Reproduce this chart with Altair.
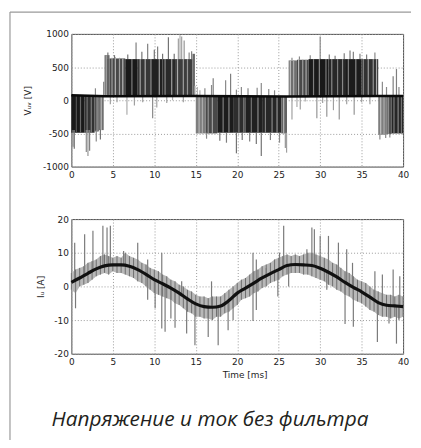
import altair as alt
import pandas as pd

# ---------------- data ----------------
X_TICKS = [0, 5, 10, 15, 20, 25, 30, 35, 40]
V_TICKS = [-1000, -500, 0, 500, 1000]
I_TICKS = [-20, -10, 0, 10, 20]

# Dense PWM blocks of the voltage: (t0, t1, low, high, grey level 0=black..1=white)
V_BLOCKS = [
    (0.0, 1.6, -490, 80, 0.05), (1.6, 2.8, -490, 80, 0.18), (2.8, 3.3, -470, 80, 0.33),
    (3.3, 3.9, -450, 80, 0.48),
    (4.0, 4.6, 60, 680, 0.42), (4.6, 6.5, 60, 630, 0.30), (6.5, 8.0, 60, 620, 0.04),
    (8.0, 9.5, 60, 620, 0.20), (9.5, 11.0, 60, 620, 0.08), (11.0, 12.5, 60, 620, 0.13),
    (12.5, 14.6, 60, 620, 0.24), (14.6, 14.9, 60, 700, 0.45),
    (15.0, 16.2, -500, 60, 0.55), (16.2, 17.6, -500, 60, 0.30), (17.6, 19.5, -490, 60, 0.06),
    (19.5, 21.0, -490, 60, 0.16), (21.0, 23.0, -490, 60, 0.08), (23.0, 25.3, -490, 60, 0.12),
    (25.3, 26.0, -500, 60, 0.42),
    (26.2, 27.2, 60, 600, 0.48), (27.2, 28.6, 60, 610, 0.30), (28.6, 31.0, 60, 620, 0.04),
    (31.0, 33.0, 60, 620, 0.12), (33.0, 35.0, 60, 620, 0.06), (35.0, 37.0, 60, 620, 0.18),
    (37.0, 38.0, -520, 60, 0.55), (38.0, 38.6, -510, 60, 0.33), (38.6, 40.0, -500, 60, 0.12),
]

# Single switching lines / spikes of the voltage: (t, low, high, grey level)
V_SPIKES = [
    (0.6, -490, 80, 0.35), (1.1, -490, 80, 0.45), (1.9, -490, 80, 0.5), (2.4, -490, 80, 0.55),
    (3.1, -470, 80, 0.7), (3.6, -450, 80, 0.8),
    (0.2, -700, -450, 0.6), (0.35, -730, -450, 0.5), (1.8, -780, -450, 0.6), (2.0, -840, -450, 0.65),
    (2.2, -760, -450, 0.55), (3.0, -620, -450, 0.6), (3.5, -590, -440, 0.5), (2.9, 60, 180, 0.6),
    (3.9, 60, 280, 0.55),
    (4.2, 60, 680, 0.75), (4.9, 60, 640, 0.7), (5.3, 60, 650, 0.8), (5.8, 60, 640, 0.7),
    (6.2, 60, 630, 0.8), (7.3, 60, 620, 0.55), (8.3, 60, 620, 0.7), (8.9, 60, 620, 0.75),
    (9.6, 60, 620, 0.6), (10.6, 60, 620, 0.7), (11.3, 60, 620, 0.6), (12.1, 60, 620, 0.7),
    (12.8, 60, 620, 0.75), (13.5, 60, 620, 0.7), (14.0, 60, 620, 0.65),
    (4.4, 620, 720, 0.5), (5.2, 620, 680, 0.5), (6.8, 620, 690, 0.5), (7.8, 620, 870, 0.55),
    (8.5, 620, 730, 0.5), (9.2, 620, 850, 0.55), (10.0, 620, 760, 0.5), (10.4, 620, 810, 0.55),
    (11.0, 620, 700, 0.5), (11.7, 620, 950, 0.5), (12.4, 620, 700, 0.5), (12.9, 620, 930, 0.7),
    (13.1, 620, 980, 0.75), (13.3, 620, 960, 0.7), (13.6, 620, 900, 0.65), (14.2, 620, 720, 0.6),
    (14.5, 620, 740, 0.55),
    (4.7, -60, 60, 0.7), (5.5, -30, 60, 0.7), (6.7, -220, 60, 0.75), (7.6, -80, 60, 0.7),
    (8.6, -30, 60, 0.7), (9.8, -270, 60, 0.6), (10.3, -110, 60, 0.7), (11.5, -40, 60, 0.7),
    (12.2, 0, 60, 0.75), (13.5, -30, 60, 0.7),
    (14.9, 60, 220, 0.75), (15.2, 60, 200, 0.8), (15.5, 60, 150, 0.75),
    (15.4, -500, 60, 0.8), (15.8, -500, 60, 0.75), (16.5, -500, 60, 0.65), (17.0, -500, 60, 0.7),
    (18.3, -490, 60, 0.55), (19.0, -490, 60, 0.6), (20.2, -490, 60, 0.55), (20.8, -490, 60, 0.6),
    (21.7, -490, 60, 0.5), (22.5, -490, 60, 0.6), (23.4, -490, 60, 0.55), (24.2, -490, 60, 0.6),
    (24.8, -490, 60, 0.65), (25.6, -500, 60, 0.8),
    (16.1, 60, 180, 0.6), (16.9, 60, 230, 0.6), (17.1, 60, 330, 0.55), (18.6, 60, 300, 0.6),
    (19.2, 60, 400, 0.55), (19.9, 60, 160, 0.6), (20.5, 60, 200, 0.6), (21.3, 60, 180, 0.6),
    (22.4, 60, 190, 0.6), (22.9, 60, 260, 0.6), (23.8, 60, 170, 0.6), (24.5, 60, 150, 0.6),
    (16.3, -580, -490, 0.6), (17.9, -610, -490, 0.5), (18.7, -640, -490, 0.55), (19.9, -800, -490, 0.5),
    (20.6, -600, -490, 0.5), (21.5, -620, -490, 0.55), (22.3, -660, -490, 0.5), (22.9, -840, -490, 0.5),
    (24.0, -600, -490, 0.55), (25.1, -640, -490, 0.6), (25.8, -720, -490, 0.65), (25.95, -790, -490, 0.7),
    (26.4, 60, 600, 0.85), (26.8, 60, 600, 0.75), (27.4, 60, 610, 0.8), (27.9, 60, 610, 0.7),
    (28.3, 60, 610, 0.75), (29.2, 60, 620, 0.55), (29.9, 60, 620, 0.6), (30.7, 60, 620, 0.55),
    (31.4, 60, 620, 0.6), (32.1, 60, 620, 0.55), (32.7, 60, 620, 0.6), (33.4, 60, 620, 0.55),
    (34.3, 60, 620, 0.6), (35.2, 60, 620, 0.6), (35.8, 60, 620, 0.7), (36.4, 60, 620, 0.65),
    (36.8, 60, 620, 0.75),
    (26.6, 600, 640, 0.6), (27.5, 610, 660, 0.6), (28.8, 620, 680, 0.6), (30.0, 620, 960, 0.6),
    (31.1, 620, 690, 0.55), (31.8, 620, 670, 0.55), (32.9, 620, 710, 0.55), (33.6, 620, 750, 0.55),
    (34.0, 620, 730, 0.55), (34.8, 620, 700, 0.55), (35.6, 620, 690, 0.55), (36.6, 620, 720, 0.6),
    (26.6, -290, 60, 0.7), (27.2, -100, 60, 0.75), (27.6, -140, 60, 0.7), (28.2, -20, 60, 0.75),
    (29.6, -270, 60, 0.65), (30.3, -40, 60, 0.7), (30.8, -250, 60, 0.65), (31.6, -150, 60, 0.7),
    (32.3, -290, 60, 0.65), (33.2, -60, 60, 0.7), (34.1, -220, 60, 0.65), (35.0, -30, 60, 0.7),
    (36.0, -60, 60, 0.7),
    (37.3, -520, 60, 0.85), (37.7, -520, 60, 0.75), (38.2, -510, 60, 0.7), (38.9, -500, 60, 0.55),
    (39.4, -500, 60, 0.6), (39.8, -500, 60, 0.5),
    (37.5, 60, 280, 0.6), (38.0, 60, 200, 0.6), (38.8, 60, 360, 0.55), (39.2, 60, 470, 0.55),
    (39.5, 60, 200, 0.6),
    (37.2, -590, -500, 0.6), (37.9, -570, -500, 0.6), (38.4, -560, -500, 0.6),
]

# Thick black "zero" level of the voltage
V_BASE_T = [0, 4, 15, 26, 37, 40]
V_BASE_V = [75, 60, 65, 55, 65, 65]

# Current: fundamental (black) every 1 ms
I_FUND_T = list(range(0, 41))
I_FUND_V = [1.2, 2.5, 3.9, 5.2, 6.1, 6.4, 6.4, 6.0, 5.0, 3.6, 2.0, 0.8, -0.5, -2.0, -3.7,
            -5.2, -6.0, -6.2, -5.8, -4.2, -2.0, -0.5, 1.0, 2.5, 3.8, 5.0, 6.2, 6.5, 6.4,
            6.2, 5.4, 4.2, 2.8, 1.2, -0.3, -1.6, -3.2, -4.8, -5.6, -5.8, -6.0]

# Current: ripple band of the measured trace every 0.5 ms (low, high)
I_BAND_T = [i * 0.5 for i in range(81)]
I_BAND_LO = [-1, -2, 0, 0.5, 1, 2, 3, 3.5, 4, 3.5, 4.5, 4, 4, 3.5, 3, 2.5, 1.5, 1, 0, -1,
             -2, -2.5, -3, -3.5, -4, -5, -5.5, -6.5, -7.5, -8, -9, -9, -9.5, -9.5, -10, -9,
             -9, -8, -7.5, -6.5, -5.5, -4, -3.5, -3, -2, -1.5, -0.5, 0, 1, 1.5, 2, 3, 3.5,
             4, 4, 4, 3.5, 3.5, 3, 2.5, 2, 1.5, 0.5, 0, -1, -1.5, -2.5, -3, -4, -4.5, -5,
             -6, -7, -7.5, -8.5, -9, -9, -9.5, -9, -9.5, -9]
I_BAND_HI = [4, 5, 5.5, 6, 7, 7.5, 8, 9, 9.5, 9, 8.5, 9, 8.5, 10, 9, 8.5, 8, 7, 6.5, 5.5,
             5, 4.5, 3.5, 3, 2, 1.5, 0.5, 0, -1, -1.5, -2.5, -3, -3, -3.5, -3, -3, -3, -2,
             -1, 0, 1, 2, 2.5, 3.5, 4.5, 5, 6, 6.5, 7, 8, 8.5, 9, 9.5, 9, 9.5, 9, 9.5, 10,
             10, 9.5, 9, 8.5, 8, 7, 6.5, 5.5, 4.5, 4, 3, 2, 1.5, 1, 0, -1, -1.5, -2, -2.5,
             -2.5, -3, -2.5, -3]

# Current spikes: (t, from, to)
I_SPIKES = [
    (0.4, 1.5, 13), (1.6, 2.8, 15.5), (2.6, 4.3, 16.5), (3.8, 6, 18), (4.3, 6.2, 17.5),
    (4.7, 6.3, 18), (6.3, 6.3, 10.5), (8.0, 5, 13), (9.2, 3.3, 8), (10.9, 0.9, 10),
    (13.3, -2.4, 1.5), (16.9, -6.2, 1.5), (21.9, 1, 10), (22.3, 1.3, 8), (23.5, 3.2, 5.5),
    (25.1, 5, 10), (25.6, 5.6, 18), (28.4, 6.3, 11), (29.0, 6.2, 17.5), (29.3, 6, 17),
    (30.0, 5.4, 15), (31.0, 4.2, 15), (32.2, 2.6, 13), (33.2, 1, 11), (33.9, -0.2, 7),
    (36.6, -4, 4.5), (37.5, -5.2, 3.5), (38.8, -5.8, 5), (39.6, -5.9, 3),
    (0.5, 1.5, -6.5), (9.2, 3.3, -4), (10.1, 1.9, -6.5), (10.9, 0.9, -12.5), (11.3, 0.4, -13.5),
    (12.0, -0.5, -9.5), (12.5, -1.2, -12.3), (13.9, -3.5, -14), (14.9, -5.2, -17.5),
    (16.5, -6.1, -15), (17.7, -6, -17.5), (18.9, -4.4, -13), (19.5, -3.1, -10),
    (21.9, 0.9, -10.3), (22.3, 1.3, -7), (24.9, 4.9, -3), (26.2, 6.2, 0), (30.8, 4.4, -1),
    (33.0, 1.2, -11.2), (34.0, -0.3, -12), (36.9, -4.6, -16.5), (38.3, -5.7, -11),
    (39.2, -5.8, -17), (39.5, -5.9, -10),
]

CAPTION = "Напряжение и ток без фильтра"
V_TITLE = "Vᵤᵥ [V]"
I_TITLE = "Iᵤ [A]"
X_TITLE = "Time [ms]"

# ---------------- tables ----------------
vblocks = pd.DataFrame(V_BLOCKS, columns=["t0", "t1", "lo", "hi", "level"])
vspikes = pd.DataFrame(V_SPIKES, columns=["t", "lo", "hi", "level"])
vbase = pd.DataFrame({"t": V_BASE_T, "v": V_BASE_V})
ifund = pd.DataFrame({"t": I_FUND_T, "v": I_FUND_V})
iband = pd.DataFrame({"t": I_BAND_T, "lo": I_BAND_LO, "hi": I_BAND_HI})
ispikes = pd.DataFrame(I_SPIKES, columns=["t", "lo", "hi"])
one = pd.DataFrame({"k": [0]})

FONT = "DejaVu Sans"
xs = alt.Scale(domain=[0, 40], nice=False, zero=False)
vs = alt.Scale(domain=[-1000, 1000], nice=False)
is_ = alt.Scale(domain=[-20, 20], nice=False)
cs = alt.Scale(domain=[0, 1], range=["#111111", "#e8e8e8"])

def xaxis(title=None):
    kw = dict(values=X_TICKS, grid=True, gridDash=[1, 2], gridColor="#9a9a9a", ticks=False,
              domain=False, labelFont=FONT, labelFontSize=9, labelColor="#222",
              labelPadding=4, labelFlush=False)
    if title:
        kw.update(title=title, titleFont=FONT, titleFontSize=9, titleFontWeight="normal",
                  titleColor="#222", titleX=175, titleY=21, titleBaseline="middle")
    else:
        kw.update(title=None)
    return alt.Axis(**kw)

def yaxis(values, title, tx, h):
    return alt.Axis(values=values, grid=True, gridDash=[1, 2], gridColor="#9a9a9a", ticks=False,
                    domain=False, labelFont=FONT, labelFontSize=9, labelColor="#222",
                    labelPadding=3, labelExpr="'' + datum.value", labelFlush=False,
                    title=title, titleFont=FONT, titleFontSize=9, titleFontWeight="normal",
                    titleColor="#222", titleX=tx, titleY=h / 2, titleAngle=270,
                    titleAlign="center", titleBaseline="middle")

XA_TOP = xaxis()
YA_TOP = yaxis(V_TICKS, V_TITLE, -44, 134)

top_blocks = alt.Chart(vblocks).mark_rect(opacity=1).encode(
    x=alt.X("t0:Q", scale=xs, axis=XA_TOP), x2="t1",
    y=alt.Y("lo:Q", scale=vs, axis=YA_TOP), y2="hi",
    color=alt.Color("level:Q", scale=cs, legend=None),
)
top_spikes = alt.Chart(vspikes).mark_rule(strokeWidth=1.2).encode(
    x=alt.X("t:Q", scale=xs, axis=XA_TOP),
    y=alt.Y("lo:Q", scale=vs, axis=YA_TOP), y2="hi",
    color=alt.Color("level:Q", scale=cs, legend=None),
)
top_base = alt.Chart(vbase).mark_line(color="#0a0a0a", strokeWidth=2.5).encode(
    x=alt.X("t:Q", scale=xs, axis=XA_TOP),
    y=alt.Y("v:Q", scale=vs, axis=YA_TOP),
)
frame_v = alt.Chart(one).mark_rule(color="#9a9a9a", strokeWidth=1.2).encode(
    x=alt.value(-62), y=alt.value(-22), y2=alt.value(410))
frame_h = alt.Chart(one).mark_rule(color="#9a9a9a", strokeWidth=1.2).encode(
    x=alt.value(-62), x2=alt.value(343), y=alt.value(-22))
caption = alt.Chart(one).mark_text(
    align="left", baseline="alphabetic", font="Open Sans", fontStyle="italic",
    fontSize=21, color="#231f20").encode(
    x=alt.value(-20), y=alt.value(396), text=alt.value(CAPTION))

top = alt.layer(top_blocks, top_spikes, top_base, frame_v, frame_h, caption).properties(
    width=335, height=134)

XA_BOT = xaxis(X_TITLE)
YA_BOT = yaxis(I_TICKS, I_TITLE, -31, 136)

bot_band = alt.Chart(iband).mark_area(color="#b8b8b8", opacity=1).encode(
    x=alt.X("t:Q", scale=xs, axis=XA_BOT),
    y=alt.Y("lo:Q", scale=is_, axis=YA_BOT), y2="hi",
)
bot_hair = alt.Chart(iband).mark_rule(color="#6e6e6e", strokeWidth=1).encode(
    x=alt.X("t:Q", scale=xs, axis=XA_BOT),
    y=alt.Y("lo:Q", scale=is_, axis=YA_BOT), y2="hi",
)
bot_spikes = alt.Chart(ispikes).mark_rule(color="#7a7a7a", strokeWidth=1.2).encode(
    x=alt.X("t:Q", scale=xs, axis=XA_BOT),
    y=alt.Y("lo:Q", scale=is_, axis=YA_BOT), y2="hi",
)
bot_fund = alt.Chart(ifund).mark_line(color="#111", strokeWidth=3.2, interpolate="monotone").encode(
    x=alt.X("t:Q", scale=xs, axis=XA_BOT),
    y=alt.Y("v:Q", scale=is_, axis=YA_BOT),
)
bot = alt.layer(bot_band, bot_hair, bot_spikes, bot_fund).properties(width=335, height=136)

chart = alt.vconcat(top, bot, spacing=53, bounds="flush").resolve_scale(
    x="independent", y="independent", color="independent"
).properties(padding=0, background="white").configure_view(
    stroke="#4a4a4a", strokeWidth=1
)

chart.save("out.html", embed_options={"renderer": "svg", "actions": False})
